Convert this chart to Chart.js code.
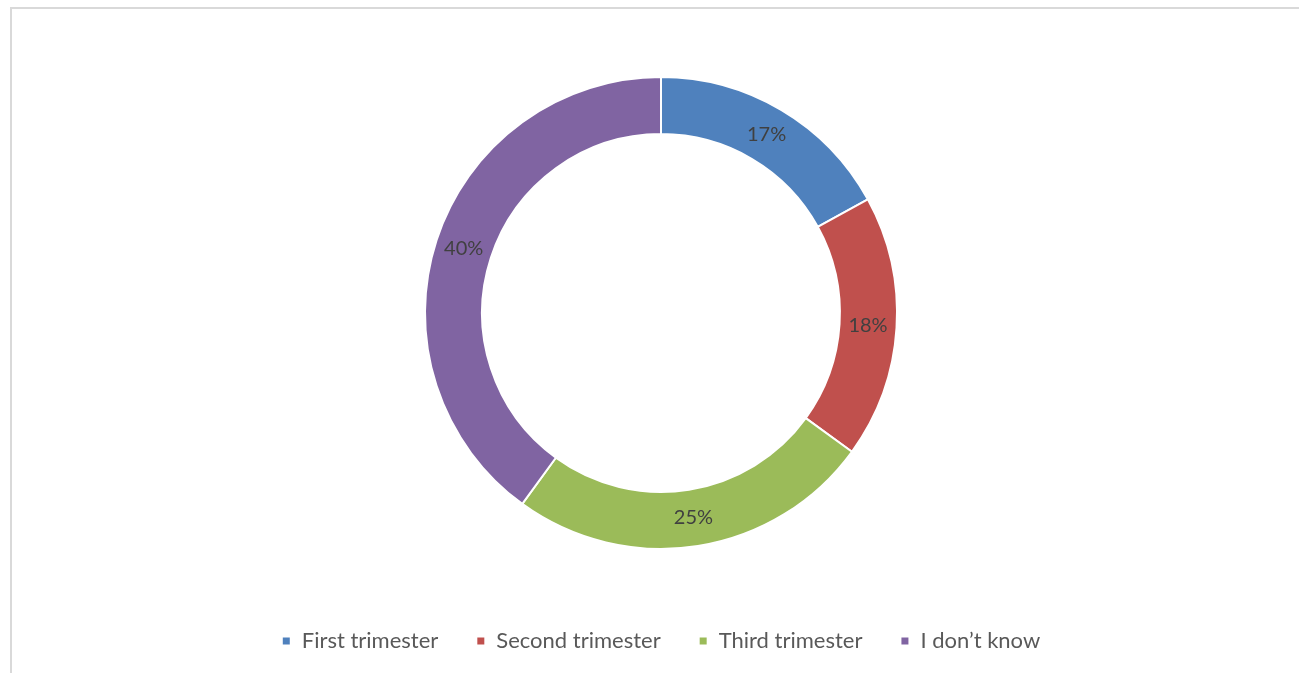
<!DOCTYPE html>
<html>
<head>
<meta charset="utf-8">
<script src="https://cdn.jsdelivr.net/npm/chart.js@4/dist/chart.umd.min.js"></script>
<style>
  html, body { margin: 0; padding: 0; background: #fff; overflow: hidden; }
  #frame {
    position: absolute; left: 10px; top: 7px; width: 1289px; height: 666px;
    border-left: 2px solid #d9d9d9; border-top: 2px solid #d9d9d9; box-sizing: border-box;
  }
  #wrap { position: absolute; left: 10px; top: 7px; width: 1289px; height: 666px; }
</style>
</head>
<body>
<div id="frame"></div>
<div id="wrap"><canvas id="donut"></canvas></div>
<script>
const categories = ["First trimester", "Second trimester", "Third trimester", "I don\u2019t know"]
const shares = [17, 18, 25, 40]
const sliceColors = ["#4F81BD", "#C0504D", "#9BBB59", "#8064A2"]

// percentage text in the middle of each ring segment
const ringLabels = {
  id: "ringLabels",
  afterDatasetsDraw(chart) {
    const ctx = chart.ctx
    const meta = chart.getDatasetMeta(0)
    ctx.save()
    ctx.font = "20px Lato"
    ctx.fillStyle = "#404040"
    ctx.textAlign = "center"
    ctx.textBaseline = "middle"
    meta.data.forEach((arc, i) => {
      const p = arc.tooltipPosition()
      ctx.fillText(shares[i] + "%", p.x, p.y)
    })
    ctx.restore()
  }
}

const chartDonut = document.getElementById("donut")

new Chart(chartDonut, {
  type: "doughnut",
  data: {
    labels: categories,
    datasets: [{
      data: shares,
      backgroundColor: sliceColors,
      borderColor: "#ffffff",
      borderWidth: 2
    }]
  },
  options: {
    responsive: true,
    maintainAspectRatio: false,
    animation: false,
    radius: 236,
    cutout: "75.8%",
    layout: { padding: { left: 13, top: 27, bottom: 11 } },
    plugins: {
      tooltip: { enabled: false },
      legend: {
        position: "bottom",
        labels: {
          boxWidth: 9,
          boxHeight: 9,
          padding: 38,
          color: "#595959",
          font: { family: "Lato", size: 22 }
        }
      }
    }
  },
  plugins: [ringLabels]
})
</script>
</body>
</html>
